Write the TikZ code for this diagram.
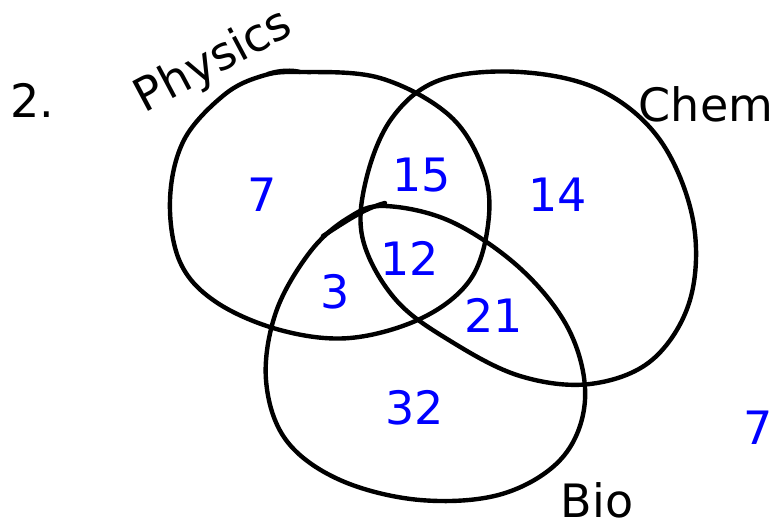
\documentclass[tikz,border=0pt]{standalone}
\usepackage{fontspec}
\setmainfont{DejaVu Sans}
\usetikzlibrary{positioning}

\tikzset{
    setline/.style={line width=4.4pt, line cap=round, line join=round},
    count/.style={blue, font=\fontsize{46}{50}\selectfont},
    title/.style={black, font=\fontsize{46}{50}\selectfont}
}

\begin{document}
\begin{tikzpicture}[x=1pt, y=-1pt]
    \useasboundingbox (0,0) rectangle (781,532);

    % physics
    \draw[setline] plot[smooth cycle, tension=0.6] coordinates {
        (300,72) (380,78) (450,116) (484,172) (488,225) (470,280)
        (422,318) (350,338) (280,330) (216,302) (180,262) (170,200)
        (184,140) (224,95) (262,76)};
    \draw[setline] (268,74) .. controls (280,70) and (292,70) .. (300,72);

    % chem
    \draw[setline] plot[smooth cycle, tension=0.6] coordinates {
        (520,72) (600,90) (660,140) (693,220) (690,300) (652,360)
        (590,384) (520,376) (452,342) (396,300) (363,240) (366,180)
        (392,118) (440,80)};

    % bio
    \draw[setline] plot[smooth cycle, tension=0.6] coordinates {
        (385,206) (452,222) (522,270) (570,332) (585,400) (562,458)
        (502,494) (420,500) (340,480) (286,440) (266,380) (276,312)
        (310,252) (348,218)};
    \draw[setline] (323,236) .. controls (345,222) and (365,208) .. (385,203);

    \node[title] (num) at (32,100) {2.};
    \node[title, rotate=28] (phys) at (214,62) {Physics};
    \node[title] (chem) at (706,104) {Chem};
    \node[title] (bio) at (597,500) {Bio};

    \node[count] (p) at (262,195) {7};
    \node[count] (pc) at (422,175) {15};
    \node[count] (c) at (558,195) {14};
    \node[count] (pcb) at (410,258) {12};
    \node[count] (pb) at (335,292) {3};
    \node[count] (cb) at (494,315) {21};
    \node[count] (b) at (415,408) {32};
    \node[count] (out) at (758,428) {7};
\end{tikzpicture}
\end{document}
